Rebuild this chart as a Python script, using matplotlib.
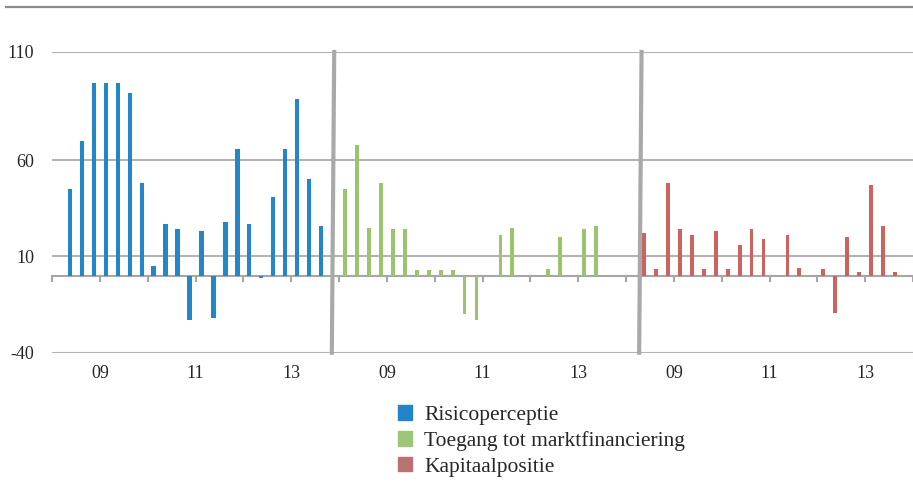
import numpy as np
import matplotlib
matplotlib.use("Agg")
import matplotlib.pyplot as plt
from matplotlib.lines import Line2D
from matplotlib.patches import Patch

nan = np.nan

# quarterly values 2008Q1 .. 2013Q4, one list per panel
risicoperceptie = [nan, 45, 70, 100, 100, 100, 95, 48, 5, 27, 24, -23,
                   23, -22, 28, 66, 27, -1, 41, 66, 92, 50, 26, nan]
toegang = [45, 68, 25, 48, 24, 24, 3, 3, 3, 3, -20, -23,
           nan, 21, 25, nan, nan, 3.5, 20, nan, 24, 26, nan, nan]
kapitaal = [nan, 22, 3.3, 48, 24, 21, 3.3, 23, 3.3, 16, 24, 19,
            nan, 21, 4, nan, 3.6, -19.5, 20, 2, 47, 26, 2, nan]

series = ["Risicoperceptie", "Toegang tot marktfinanciering", "Kapitaalpositie"]
colors = ["#2386c9", "#9cc46c", "#cd635f"]
legend_colors = ["#2385c8", "#9fc677", "#b87272"]
year_labels = ["09", "11", "13"]
ytick_vals = [-40, 10, 60, 116.2]
ytick_labels = ["-40", "10", "60", "110"]

plt.rcParams["font.family"] = ["Liberation Serif", "DejaVu Serif"]
text_col = "#262626"
grid_col = "#b3b3b3"

fig = plt.figure(figsize=(9.13, 4.93), dpi=100)
ax = fig.add_axes([52 / 913, 1 - 352.7 / 493, 861 / 913, (352.7 - 52) / 493])

n = len(risicoperceptie)
for p, (vals, col) in enumerate(zip([risicoperceptie, toegang, kapitaal], colors)):
    x = np.arange(n) + p * n
    ax.bar(x, vals, width=0.36 if p == 0 else 0.32, color=col, zorder=3)

ax.set_xlim(-0.5, 3 * n - 0.5)
ax.set_ylim(-40, 116.2)

# grid lines
for v in ytick_vals:
    ax.axhline(v, color=grid_col, lw=1.5, zorder=1)
ax.axhline(0, color="#a6a6a6", lw=1.5, zorder=2)

# small ticks on the zero line at every year boundary
for b in np.arange(-0.5, 3 * n, 4):
    ax.plot([b, b], [0, -2.6], color="#a6a6a6", lw=1.5, zorder=2, clip_on=False)

# panel separators
for sep in [n - 1, 2 * n + 0.7]:
    ax.plot([sep + 0.1, sep - 0.1], [116.2, -40], color="#a9a9a9", lw=3,
            zorder=4, clip_on=False)

for s in ax.spines.values():
    s.set_visible(False)

ax.set_yticks(ytick_vals)
ax.set_yticklabels(ytick_labels)
ax.tick_params(axis="y", length=0, pad=13, labelsize=13, labelcolor=text_col)

ax.set_xticks([])
pos, labs = [], []
for p in range(3):
    for i, lab in enumerate(year_labels):
        pos.append(p * n + 3.5 + 8 * i)
        labs.append(lab)
sec = ax.secondary_xaxis(0)
sec.set_xticks(pos)
sec.set_xticklabels(labs)
sec.tick_params(length=0, pad=9, labelsize=13, labelcolor=text_col)
sec.spines["bottom"].set_visible(False)

# top rule
fig.add_artist(Line2D([6 / 913, 1], [1 - 7 / 493, 1 - 7 / 493],
                      color="#8c8c8c", lw=1.6))

handles = [Patch(color=c) for c in legend_colors]
fig.legend(handles, series, loc="upper left", bbox_to_anchor=(387 / 913, 1 - 394 / 493),
           frameon=False, fontsize=15.5, handlelength=0.68, handleheight=0.68,
           handletextpad=0.55, labelspacing=0.28, borderpad=0, labelcolor=text_col)

fig.savefig("out.png", dpi=100)
